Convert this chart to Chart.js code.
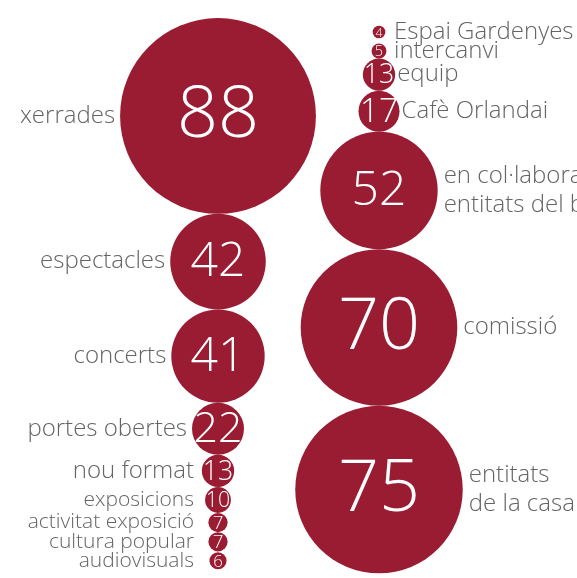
<!DOCTYPE html>
<html>
<head>
<meta charset="utf-8">
<script src="https://cdn.jsdelivr.net/npm/chart.js@4"></script>
<style>
  html, body { margin: 0; padding: 0; background: #fff; }
  #wrap { position: relative; width: 577px; height: 578px; overflow: hidden; }
</style>
</head>
<body>
<div id="wrap"><canvas id="bubbles" width="577" height="578"></canvas></div>
<script>
// left column, top to bottom
var leftLabels = ['xerrades', 'espectacles', 'concerts', 'portes obertes', 'nou format',
                  'exposicions', 'activitat exposició', 'cultura popular', 'audiovisuals'];
var leftValues = [88, 42, 41, 22, 13, 10, 7, 7, 6];

// right column, top to bottom
var rightLabels = ['Espai Gardenyes', 'intercanvi', 'equip', 'Cafè Orlandai',
                   ['en col·laboració amb', 'entitats del barri'], 'comissió', ['entitats', 'de la casa']];
var rightValues = [4, 5, 13, 17, 52, 70, 75];

var RED = '#991c32';
var GREY = '#646464';
var FONT = '"Open Sans", "DejaVu Sans", sans-serif';

function radius(v) {
    return 1.09 * v + 2;
}

// stack circles down a column, each one touching the one above
function stack(values, x, firstCenter) {
    var pts = [];
    var y = firstCenter;
    for (var i = 0; i < values.length; i++) {
	var r = radius(values[i]);
	if (i > 0) {
	    var prev = radius(values[i - 1]);
	    y += Math.max(prev + r, 19);
	}
	pts.push({x: x, y: y, r: r, v: values[i]});
    }
    return pts;
}

var leftPts = stack(leftValues, 218, 18 + radius(leftValues[0]));
var rightPts = stack(rightValues, 379, 32);

function numberSize(v, r) {
    if (v >= 60) return 72;
    if (v >= 30) return 48;
    if (v >= 10) return 1.65 * r;
    return 1.95 * r;
}

var labelPlugin = {
    id: 'bubbleLabels',
    afterDatasetsDraw: function (chart) {
	var ctx = chart.ctx;
	ctx.save();
	chart.data.datasets.forEach(function (ds, di) {
	    var meta = chart.getDatasetMeta(di);
	    meta.data.forEach(function (el, i) {
		var v = ds.data[i].v;
		var r = ds.data[i].r;
		// value inside
		ctx.fillStyle = '#fff';
		ctx.textAlign = 'center';
		ctx.textBaseline = 'middle';
		ctx.font = '300 ' + numberSize(v, r).toFixed(1) + 'px ' + FONT;
		ctx.fillText(String(v), el.x, el.y + 1);

		// category label beside
		var lab = ds.labels[i];
		var lines = Array.isArray(lab) ? lab : [lab];
		var size = (di === 0 && r < 15) ? 21 : 24;
		ctx.font = '300 ' + size + 'px ' + FONT;
		ctx.fillStyle = GREY;
		var tx;
		if (di === 0) {
		    ctx.textAlign = 'right';
		    tx = Math.min(el.x - r - 5, el.x - 24);
		} else {
		    ctx.textAlign = 'left';
		    tx = Math.max(el.x + r + (r > 40 ? 6 : 2), el.x + 15);
		}
		var lh = 29;
		var y0 = el.y - (lines.length - 1) * lh / 2;
		lines.forEach(function (line, k) {
		    ctx.fillText(line, tx, y0 + k * lh);
		});
	    });
	});
	ctx.restore();
    }
};

new Chart(document.getElementById('bubbles').getContext('2d'), {
    type: 'bubble',
    data: {
	datasets: [{
	    data: leftPts,
	    labels: leftLabels,
	    backgroundColor: RED,
	    borderWidth: 0,
	    hoverRadius: 0,
	    clip: false
	}, {
	    data: rightPts,
	    labels: rightLabels,
	    backgroundColor: RED,
	    borderWidth: 0,
	    hoverRadius: 0,
	    clip: false
	}]
    },
    options: {
	responsive: false,
	animation: false,
	events: [],
	layout: { padding: 0, autoPadding: false },
	plugins: {
	    legend: { display: false },
	    tooltip: { enabled: false }
	},
	scales: {
	    x: { type: 'linear', min: 0, max: 577, display: false },
	    y: { type: 'linear', min: 0, max: 578, reverse: true, display: false }
	}
    },
    plugins: [labelPlugin]
});
</script>
</body>
</html>
